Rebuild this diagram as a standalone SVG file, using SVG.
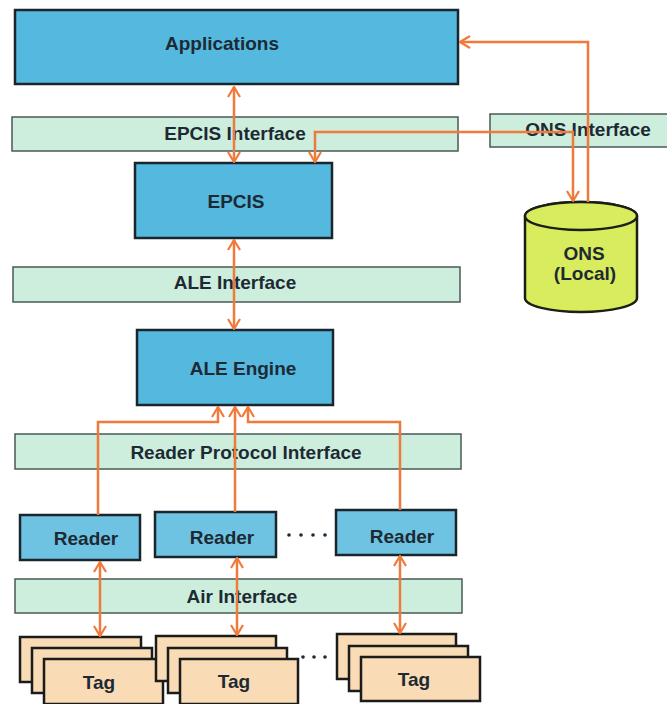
<svg xmlns="http://www.w3.org/2000/svg" width="667" height="704" viewBox="0 0 667 704">
<defs>
<style>
.box{fill:#55b8df;stroke:#1b252c;stroke-width:2.5}
.rdr{fill:#6ec2e2;stroke:#1b252c;stroke-width:2.5}
.band{fill:#cdeedd;stroke:#4a5955;stroke-width:1.5}
.tag{fill:#f9dcb5;stroke:#1b1b1b;stroke-width:2.5}
.cyl{fill:#d9ec5e;stroke:#1b1f14;stroke-width:2.5}
.t{font-family:"Liberation Sans",Arial,sans-serif;font-weight:bold;font-size:19px;fill:#1d2a33;text-anchor:middle}
.tt{font-size:19px}
.c{fill:none;stroke:#f07a3b;stroke-width:2.5}
.dot{fill:#1d2a33}
</style>
<marker id="ah" viewBox="0 0 12 14" refX="11" refY="7" markerWidth="12" markerHeight="14" markerUnits="userSpaceOnUse" orient="auto-start-reverse">
<path d="M1,1 L11,7 L1,13" fill="none" stroke="#f07a3b" stroke-width="2.2"/>
</marker>
</defs>
<rect width="667" height="704" fill="#ffffff"/>

<g id="applications"><rect class="box" x="15" y="10" width="443" height="74"/><text class="t" x="222" y="50">Applications</text></g>
<g id="epcis-interface"><rect class="band" x="12" y="117" width="446" height="34"/><text class="t" x="235" y="140">EPCIS Interface</text></g>
<g id="ons-interface"><rect class="band" x="490" y="114" width="180" height="33"/><text class="t" x="588" y="136">ONS Interface</text></g>
<g id="epcis"><rect class="box" x="135" y="163" width="197" height="75"/><text class="t" x="236" y="208">EPCIS</text></g>
<g id="ons"><path class="cyl" d="M525,216 V298 A56,14 0 0 0 637,298 V216 A56,14 0 0 0 525,216 Z"/><ellipse class="cyl" cx="581" cy="216" rx="56" ry="14"/><text class="t" x="584" y="260">ONS</text><text class="t" x="585" y="280">(Local)</text></g>
<g id="ale-interface"><rect class="band" x="13" y="267" width="447" height="35"/><text class="t" x="235" y="289">ALE Interface</text></g>
<g id="ale-engine"><rect class="box" x="137" y="330" width="196" height="75"/><text class="t" x="243" y="375">ALE Engine</text></g>
<g id="reader-protocol-interface"><rect class="band" x="15" y="434" width="446" height="35"/><text class="t" x="246" y="459">Reader Protocol Interface</text></g>
<g id="reader-1"><rect class="rdr" x="20" y="515" width="120" height="45"/><text class="t" x="86" y="545">Reader</text></g>
<g id="reader-2"><rect class="rdr" x="155" y="512" width="121" height="45"/><text class="t" x="222" y="544">Reader</text></g>
<g id="reader-ellipsis"><circle class="dot" cx="289" cy="535" r="1.8"/><circle class="dot" cx="301" cy="535" r="1.8"/><circle class="dot" cx="313" cy="535" r="1.8"/><circle class="dot" cx="325" cy="535" r="1.8"/></g>
<g id="reader-3"><rect class="rdr" x="336" y="510" width="120" height="45"/><text class="t" x="402" y="543">Reader</text></g>
<g id="air-interface"><rect class="band" x="15" y="579" width="447" height="34"/><text class="t" x="242" y="603">Air Interface</text></g>
<g id="tags-1"><rect class="tag" x="20" y="637" width="121" height="45"/><rect class="tag" x="32" y="648" width="120" height="45"/><rect class="tag" x="44" y="659" width="119" height="45"/><text class="t tt" x="99" y="689">Tag</text></g>
<g id="tags-2"><rect class="tag" x="156" y="636" width="120" height="45"/><rect class="tag" x="168" y="648" width="119" height="45"/><rect class="tag" x="180" y="659" width="118" height="45"/><text class="t tt" x="234" y="688">Tag</text></g>
<g id="tag-ellipsis"><circle class="dot" cx="303" cy="657" r="1.8"/><circle class="dot" cx="314" cy="657" r="1.8"/><circle class="dot" cx="325" cy="657" r="1.8"/></g>
<g id="tags-3"><rect class="tag" x="337" y="634" width="119" height="45"/><rect class="tag" x="349" y="646" width="119" height="45"/><rect class="tag" x="361" y="657" width="119" height="44"/><text class="t tt" x="414" y="686">Tag</text></g>

<g id="connectors">
<path class="c" d="M234,87 V162" marker-start="url(#ah)" marker-end="url(#ah)"/>
<path class="c" d="M315,162 V132 H573 V201" marker-start="url(#ah)" marker-end="url(#ah)"/>
<path class="c" d="M588,202 V42 H460" marker-end="url(#ah)"/>
<path class="c" d="M234,240 V329" marker-start="url(#ah)" marker-end="url(#ah)"/>
<path class="c" d="M98,515 V422 H218 V407" marker-end="url(#ah)"/>
<path class="c" d="M235,512 V407" marker-end="url(#ah)"/>
<path class="c" d="M400,510 V422 H248 V407" marker-end="url(#ah)"/>
<path class="c" d="M100,562 V636" marker-start="url(#ah)" marker-end="url(#ah)"/>
<path class="c" d="M237,558 V635" marker-start="url(#ah)" marker-end="url(#ah)"/>
<path class="c" d="M400,556 V633" marker-start="url(#ah)" marker-end="url(#ah)"/>
</g>
</svg>
